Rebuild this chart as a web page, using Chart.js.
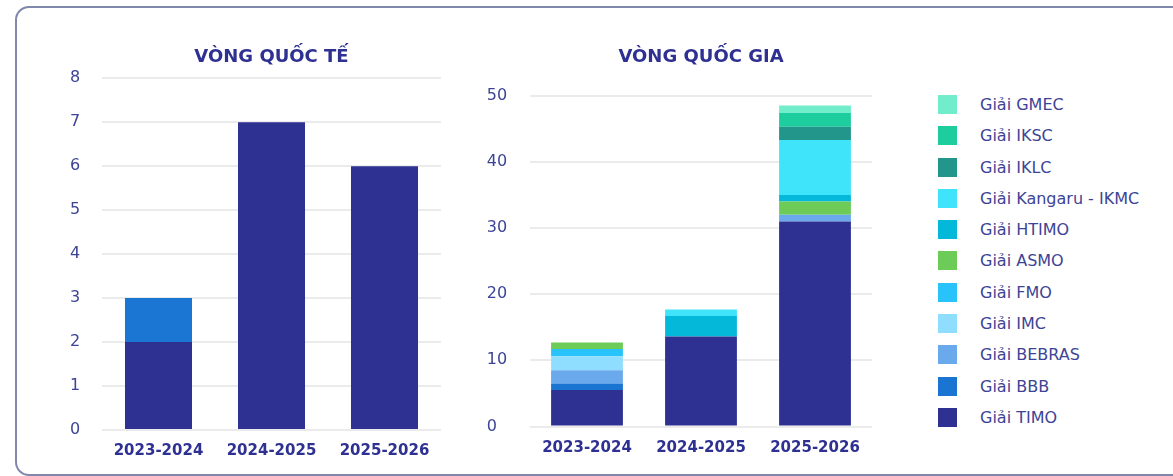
<!DOCTYPE html>
<html>
<head>
<meta charset="utf-8">
<script src="https://cdn.jsdelivr.net/npm/chart.js@4.4.1/dist/chart.umd.min.js"></script>
<style>
  body { margin: 0; background: #fff; width: 1173px; height: 476px; overflow: hidden; position: relative; font-family: "DejaVu Sans", sans-serif; }
  .box { position: absolute; left: 15px; top: 6px; width: 1200px; height: 466px; border: 2px solid #8089ad; border-radius: 14px; }
  #wrapQT { position: absolute; left: 40px; top: 0; width: 450px; height: 476px; }
  #wrapQG { position: absolute; left: 470px; top: 0; width: 448px; height: 476px; }
  #legend { position: absolute; left: 938px; top: 95px; margin: 0; padding: 0; list-style: none; }
  #legend li { height: 19px; margin-bottom: 12.3px; display: flex; align-items: center; font-size: 16px; color: #3d4495; white-space: nowrap; }
  #legend span { display: inline-block; width: 19px; height: 19px; margin-right: 23px; }
</style>
</head>
<body>
<div class="box"></div>
<div id="wrapQT"><canvas id="chartQT" width="450" height="476"></canvas></div>
<div id="wrapQG"><canvas id="chartQG" width="448" height="476"></canvas></div>
<ul id="legend"></ul>
<script>
// nam hoc
const categories = ['2023-2024', '2024-2025', '2025-2026'];

// vong quoc te
const qtTimo = [2, 7, 6];
const qtBbb = [1, 0, 0];
const qtTicks = [0, 1, 2, 3, 4, 5, 6, 7, 8];

// vong quoc gia (tu duoi len tren)
const giaiNames = ['Giải TIMO', 'Giải BBB', 'Giải BEBRAS', 'Giải IMC', 'Giải FMO', 'Giải ASMO',
  'Giải HTIMO', 'Giải Kangaru - IKMC', 'Giải IKLC', 'Giải IKSC', 'Giải GMEC'];
const giaiColors = ['#2e3192', '#1a75d2', '#6aaaec', '#8fdeff', '#29c3fb', '#6dcc57',
  '#04b8da', '#40e4fa', '#22968a', '#1ecd9e', '#72edcc'];
const qgTimo = [5.5, 13.6, 31];
const qgBbb = [1, 0, 0];
const qgBebras = [2, 0, 1];
const qgImc = [2.1, 0, 0];
const qgFmo = [1.1, 0, 0];
const qgAsmo = [1, 0, 2];
const qgHtimo = [0, 3.1, 1];
const qgKangaru = [0, 1, 8.3];
const qgIklc = [0, 0, 2];
const qgIksc = [0, 0, 2.1];
const qgGmec = [0, 0, 1.1];
const qgTicks = [0, 10, 20, 30, 40, 50];

const navy = '#2e3192';
const tickColor = '#3d4495';
const gridColor = '#ebebeb';
const fontFam = '"DejaVu Sans", sans-serif';

function makeOptions(o) {
  return {
    responsive: false,
    animation: false,
    devicePixelRatio: 1,
    layout: { padding: o.pad },
    datasets: { bar: { barPercentage: o.barPct, categoryPercentage: 1, borderWidth: 0 } },
    plugins: {
      legend: { display: false },
      tooltip: { enabled: false },
      title: {
        display: true,
        text: o.title,
        fullSize: false,
        color: navy,
        font: { family: fontFam, size: 18, weight: 'bold' },
        padding: { top: 0, bottom: o.titleBottom }
      }
    },
    scales: {
      x: {
        stacked: true,
        grid: { display: false, drawTicks: false },
        border: { display: false },
        ticks: { color: navy, padding: o.xPad, font: { family: fontFam, size: 15, weight: 'bold' } },
        afterFit: s => { s.height = o.xH; }
      },
      y: {
        stacked: true,
        min: o.ticks[0],
        max: o.ticks[o.ticks.length - 1],
        afterBuildTicks: s => { s.ticks = o.ticks.map(v => ({ value: v })); },
        grid: { color: gridColor, lineWidth: 2, drawTicks: false },
        border: { display: false },
        ticks: { color: tickColor, crossAlign: 'far', font: { family: fontFam, size: 16 } },
        afterFit: s => { s.width = o.axisW; }
      }
    }
  };
}

new Chart(document.getElementById('chartQT').getContext('2d'), {
  type: 'bar',
  data: {
    labels: categories,
    datasets: [
      { label: 'Giải TIMO', data: qtTimo, backgroundColor: '#2e3192' },
      { label: 'Giải BBB', data: qtBbb, backgroundColor: '#1b76d3' }
    ]
  },
  options: makeOptions({
    title: 'VÒNG QUỐC TẾ', titleBottom: 9.7,
    ticks: qtTicks, axisW: 32,
    barPct: 0.593, xPad: 12, xH: 46,
    pad: { top: 47, left: 30, right: 49, bottom: 0 }
  })
});

const qgSeries = [qgTimo, qgBbb, qgBebras, qgImc, qgFmo, qgAsmo, qgHtimo, qgKangaru, qgIklc, qgIksc, qgGmec];

new Chart(document.getElementById('chartQG').getContext('2d'), {
  type: 'bar',
  data: {
    labels: categories,
    datasets: qgSeries.map((d, i) => ({ label: giaiNames[i], data: d, backgroundColor: giaiColors[i] }))
  },
  options: makeOptions({
    title: 'VÒNG QUỐC GIA', titleBottom: 27.1,
    ticks: qgTicks, axisW: 43.3,
    barPct: 0.63, xPad: 13, xH: 49.5,
    pad: { top: 47, left: 16.7, right: 46, bottom: 0 }
  })
});

// chu thich (tren xuong duoi)
const legendEl = document.getElementById('legend');
for (let i = giaiNames.length - 1; i >= 0; i--) {
  const li = document.createElement('li');
  const sw = document.createElement('span');
  sw.style.background = giaiColors[i];
  li.appendChild(sw);
  li.appendChild(document.createTextNode(giaiNames[i]));
  legendEl.appendChild(li);
}
</script>
</body>
</html>
